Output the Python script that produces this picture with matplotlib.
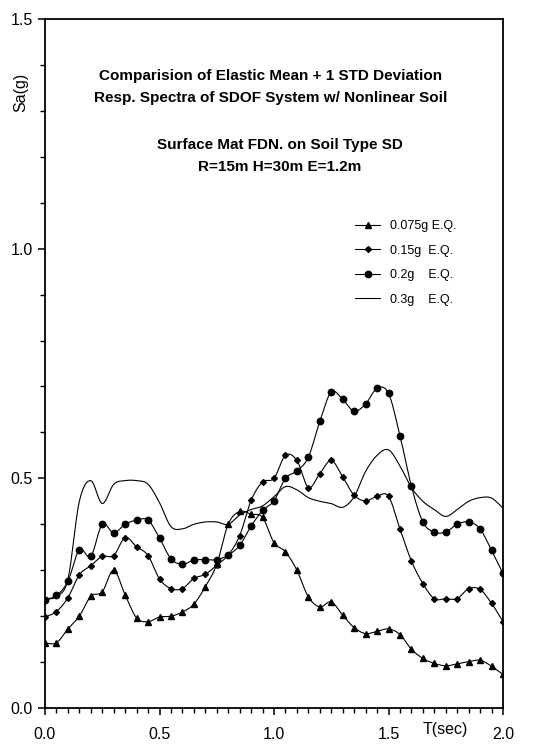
import numpy as np
import matplotlib
matplotlib.use('Agg')
import matplotlib.pyplot as plt
from matplotlib.ticker import MultipleLocator, FormatStrFormatter

plt.rcParams['font.family'] = ['Liberation Sans', 'DejaVu Sans']

# periodo (s) y espectros de respuesta, Sa(g)
periodo = np.round(np.arange(0, 2.001, 0.05), 2)

sa_0075 = [0.141, 0.142, 0.172, 0.200, 0.243, 0.253, 0.300, 0.246, 0.196, 0.188,
           0.198, 0.200, 0.209, 0.226, 0.264, 0.313, 0.400, 0.428, 0.422, 0.415,
           0.360, 0.340, 0.300, 0.242, 0.220, 0.231, 0.202, 0.175, 0.162, 0.167,
           0.172, 0.160, 0.128, 0.108, 0.097, 0.092, 0.096, 0.101, 0.104, 0.091,
           0.073]
sa_015 = [0.198, 0.210, 0.240, 0.290, 0.310, 0.330, 0.332, 0.371, 0.351, 0.332,
          0.281, 0.260, 0.260, 0.282, 0.291, 0.311, 0.333, 0.375, 0.452, 0.492,
          0.500, 0.550, 0.539, 0.480, 0.510, 0.539, 0.503, 0.463, 0.451, 0.461,
          0.461, 0.390, 0.320, 0.271, 0.238, 0.238, 0.238, 0.260, 0.258, 0.228,
          0.188]
sa_02 = [0.236, 0.245, 0.276, 0.345, 0.330, 0.400, 0.381, 0.400, 0.409, 0.409,
         0.370, 0.325, 0.313, 0.322, 0.323, 0.323, 0.333, 0.354, 0.396, 0.430,
         0.451, 0.500, 0.516, 0.546, 0.624, 0.688, 0.672, 0.646, 0.662, 0.696,
         0.685, 0.593, 0.483, 0.405, 0.383, 0.383, 0.400, 0.405, 0.390, 0.343,
         0.293]
sa_03 = [0.236, 0.243, 0.280, 0.450, 0.495, 0.445, 0.487, 0.495, 0.495, 0.487,
         0.447, 0.395, 0.390, 0.400, 0.405, 0.405, 0.400, 0.420, 0.432, 0.440,
         0.460, 0.482, 0.475, 0.458, 0.450, 0.445, 0.437, 0.460, 0.515, 0.550,
         0.562, 0.527, 0.480, 0.450, 0.432, 0.417, 0.432, 0.450, 0.458, 0.457,
         0.435]

etiquetas = ['0.075g E.Q.', '0.15g  E.Q.', '0.2g    E.Q.', '0.3g    E.Q.']

titulo = ['Comparision of Elastic Mean + 1 STD Deviation',
          'Resp. Spectra of SDOF System w/ Nonlinear Soil']
subtitulo = ['Surface Mat FDN. on Soil Type SD',
             'R=15m H=30m E=1.2m']


def suave(x, y, n=8):
    # curva Catmull-Rom solo para el trazo entre puntos
    x = np.asarray(x, float)
    y = np.asarray(y, float)
    px = np.concatenate([[2 * x[0] - x[1]], x, [2 * x[-1] - x[-2]]])
    py = np.concatenate([[2 * y[0] - y[1]], y, [2 * y[-1] - y[-2]]])
    t = np.linspace(0, 1, n, endpoint=False)[:, None]
    out_x, out_y = [], []
    for arr, out in ((px, out_x), (py, out_y)):
        p0, p1, p2, p3 = arr[:-3], arr[1:-2], arr[2:-1], arr[3:]
        seg = 0.5 * ((2 * p1) + (-p0 + p2) * t + (2 * p0 - 5 * p1 + 4 * p2 - p3) * t ** 2
                     + (-p0 + 3 * p1 - 3 * p2 + p3) * t ** 3)
        out.extend(seg.T.ravel().tolist())
        out.append(arr[-2])
    return np.array(out_x), np.array(out_y)


fig = plt.figure(figsize=(5.39, 7.44), dpi=100)
ax = fig.add_axes([45 / 539, 36 / 744, 458 / 539, 689 / 744])

lw = 0.8
series = [(sa_0075, '^', 4.2), (sa_015, 'D', 3.0), (sa_02, 'o', 4.6), (sa_03, None, 0)]
handles = []
for (vals, mk, ms), lab in zip(series, etiquetas):
    sx, sy = suave(periodo, vals)
    ax.plot(sx, sy, color='black', lw=lw)
    if mk:
        ax.plot(periodo, vals, ls='none', marker=mk, ms=ms, color='black')
    h, = ax.plot([], [], color='black', lw=lw, marker=mk, ms=ms, label=lab)
    handles.append(h)

ax.set_xlim(0, 2.0)
ax.set_ylim(0, 1.5)
ax.xaxis.set_major_locator(MultipleLocator(0.5))
ax.xaxis.set_minor_locator(MultipleLocator(0.05))
ax.yaxis.set_major_locator(MultipleLocator(0.5))
ax.yaxis.set_minor_locator(MultipleLocator(0.1))
ax.xaxis.set_major_formatter(FormatStrFormatter('%.1f'))
ax.yaxis.set_major_formatter(FormatStrFormatter('%.1f'))
ax.tick_params(axis='both', which='major', direction='out', length=5, width=1.1,
               labelsize=11.5, color='black')
ax.tick_params(axis='both', which='minor', direction='out', length=3.5, width=1.0)
ax.tick_params(axis='x', which='major', pad=9)
ax.tick_params(axis='y', which='major', pad=4)
for s in ax.spines.values():
    s.set_linewidth(1.3)

ax.set_xlabel('T(sec)', fontsize=11.5)
ax.xaxis.set_label_coords(0.873, -0.020)
ax.text(-0.052, 0.894, 'Sa(g)', transform=ax.transAxes, rotation=90,
        ha='center', va='center', fontsize=11.5)

for i, linea in enumerate(titulo):
    ax.text(0.4934, 0.9173 - i * 0.032, linea, transform=ax.transAxes,
            ha='center', va='center', fontsize=11, fontweight='bold')
for i, linea in enumerate(subtitulo):
    ax.text(0.513, 0.8171 - i * 0.032, linea, transform=ax.transAxes,
            ha='center', va='center', fontsize=11, fontweight='bold')

ax.legend(handles=handles, loc='upper left', bbox_to_anchor=(0.667, 0.715),
          frameon=False, fontsize=9, handlelength=2.0, handletextpad=0.8,
          labelspacing=1.0, borderaxespad=0)

fig.savefig('out.png', dpi=100)
